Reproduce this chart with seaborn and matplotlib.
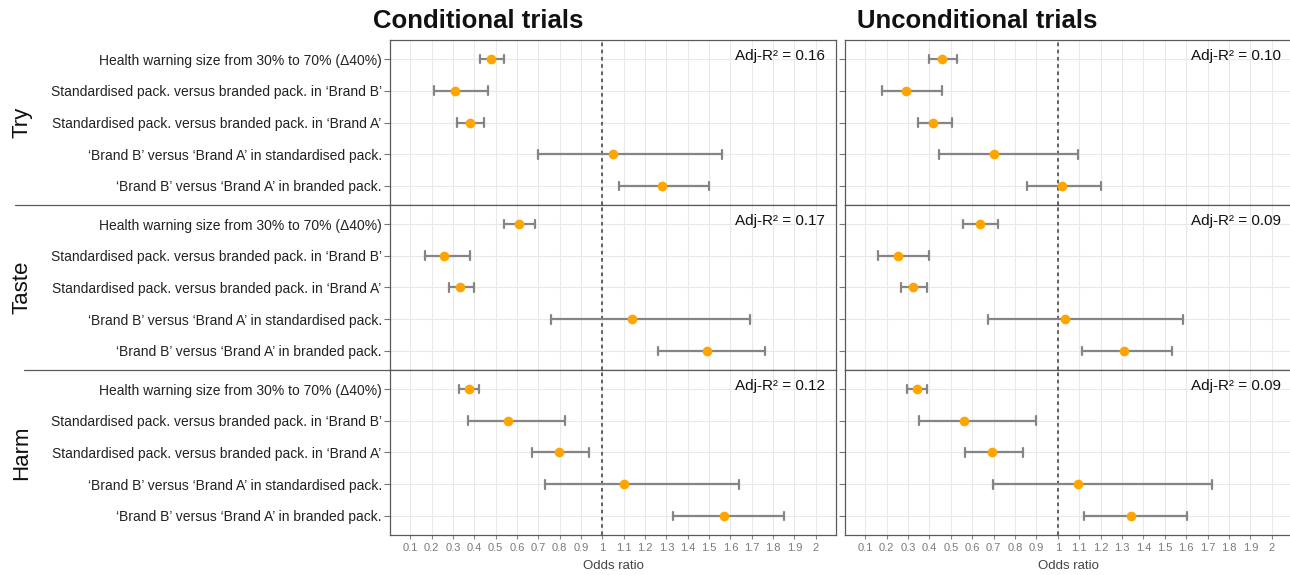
import numpy as np
import pandas as pd
import matplotlib
matplotlib.use("Agg")
import matplotlib.pyplot as plt
import seaborn as sns
from matplotlib.lines import Line2D

sns.set_theme(style="white")
plt.rcParams['font.family'] = ['Liberation Sans', 'DejaVu Sans']

# ---------------- data ----------------
comparisons = [
    "Health warning size from 30% to 70% (\u039440%)",
    "Standardised pack. versus branded pack. in \u2018Brand B\u2019",
    "Standardised pack. versus branded pack. in \u2018Brand A\u2019",
    "\u2018Brand B\u2019 versus \u2018Brand A\u2019 in standardised pack.",
    "\u2018Brand B\u2019 versus \u2018Brand A\u2019 in branded pack.",
]
outcomes = ["Try", "Taste", "Harm"]
trial_titles = ["Conditional trials", "Unconditional trials"]
x_ticks = [0.1, 0.2, 0.3, 0.4, 0.5, 0.6, 0.7, 0.8, 0.9, 1.0,
           1.1, 1.2, 1.3, 1.4, 1.5, 1.6, 1.7, 1.8, 1.9, 2.0]
x_tick_labels = ["0.1", "0.2", "0.3", "0.4", "0.5", "0.6", "0.7", "0.8", "0.9", "1",
                 "1.1", "1.2", "1.3", "1.4", "1.5", "1.6", "1.7", "1.8", "1.9", "2"]

# Conditional trials
cond_try_or = [0.48, 0.31, 0.38, 1.05, 1.28]
cond_try_lo = [0.425, 0.21, 0.32, 0.70, 1.08]
cond_try_hi = [0.54, 0.465, 0.447, 1.56, 1.50]
cond_taste_or = [0.61, 0.26, 0.335, 1.14, 1.49]
cond_taste_lo = [0.54, 0.17, 0.28, 0.76, 1.26]
cond_taste_hi = [0.685, 0.38, 0.40, 1.69, 1.76]
cond_harm_or = [0.375, 0.557, 0.795, 1.10, 1.57]
cond_harm_lo = [0.327, 0.372, 0.672, 0.732, 1.332]
cond_harm_hi = [0.42, 0.826, 0.937, 1.64, 1.853]

# Unconditional trials
unc_try_or = [0.46, 0.29, 0.415, 0.70, 1.02]
unc_try_lo = [0.40, 0.18, 0.345, 0.445, 0.855]
unc_try_hi = [0.53, 0.46, 0.505, 1.095, 1.20]
unc_taste_or = [0.635, 0.255, 0.325, 1.035, 1.31]
unc_taste_lo = [0.555, 0.16, 0.267, 0.672, 1.115]
unc_taste_hi = [0.72, 0.40, 0.39, 1.585, 1.535]
unc_harm_or = [0.342, 0.56, 0.69, 1.096, 1.343]
unc_harm_lo = [0.293, 0.353, 0.568, 0.697, 1.124]
unc_harm_hi = [0.387, 0.898, 0.836, 1.722, 1.605]

cond_adj_r2 = [0.16, 0.17, 0.12]
unc_adj_r2 = [0.10, 0.09, 0.09]

panels = [
    [(cond_try_or, cond_try_lo, cond_try_hi),
     (cond_taste_or, cond_taste_lo, cond_taste_hi),
     (cond_harm_or, cond_harm_lo, cond_harm_hi)],
    [(unc_try_or, unc_try_lo, unc_try_hi),
     (unc_taste_or, unc_taste_lo, unc_taste_hi),
     (unc_harm_or, unc_harm_lo, unc_harm_hi)],
]
adj_r2 = [cond_adj_r2, unc_adj_r2]


def long_df(orv, lo, hi):
    rows = []
    for lab, a, b, c in zip(comparisons, lo, orv, hi):
        for v in (a, b, c):
            rows.append({"comparison": lab, "odds_ratio": v})
    return pd.DataFrame(rows)


# ---------------- layout ----------------
W, H = 1290, 575
fig = plt.figure(figsize=(W / 100, H / 100), dpi=100)

col_x = [(390, 836), (845, 1292)]
row_y = [(40, 205), (205, 370), (370, 535)]

SPINE = "#5a5a5a"
ORANGE = "#FFA500"
GREY = "#858585"

for c in range(2):
    for r in range(3):
        x0, x1 = col_x[c]
        y0, y1 = row_y[r]
        ax = fig.add_axes([x0 / W, 1 - y1 / H, (x1 - x0) / W, (y1 - y0) / H])
        orv, lo, hi = panels[c][r]
        df = long_df(orv, lo, hi)
        sns.pointplot(data=df, x="odds_ratio", y="comparison", order=comparisons,
                      estimator="median", errorbar=("pi", 100), color=ORANGE,
                      linestyle="none", markers="o", markersize=7,
                      markeredgewidth=0, capsize=0.28,
                      err_kws={"color": GREY, "linewidth": 1.6, "linestyle": "-"},
                      ax=ax)
        # points above error bars
        ax.lines[0].set_zorder(5)
        for ln in ax.lines[1:]:
            ln.set_zorder(4)

        ax.axvline(1.0, color="#555555", linestyle=(0, (2, 2)), linewidth=1.3, zorder=3)

        ax.set_xlim(0.005, 2.095)
        ax.set_ylim(4.6, -0.6)
        ax.set_xticks(x_ticks)
        ax.set_axisbelow(True)
        ax.grid(True, which="major", color="#e9e9e9", linewidth=0.8)
        ax.set_ylabel("")

        for sp in ax.spines.values():
            sp.set_visible(True)
            sp.set_color(SPINE)
            sp.set_linewidth(0.9)

        if r == 2:
            ax.set_xticklabels(x_tick_labels)
            ax.tick_params(axis="x", which="major", bottom=True, length=3, width=0.8,
                           color="#888888", labelsize=8, labelcolor="#7a7a7a", pad=3)
            ax.set_xlabel("Odds ratio", fontsize=9.5, color="#444444", labelpad=5)
        else:
            ax.tick_params(axis="x", which="major", bottom=False, labelbottom=False)
            ax.set_xlabel("")

        if c == 0:
            ax.tick_params(axis="y", left=True, length=4, width=0.8, color="#777777",
                           labelsize=10, labelcolor="#222222", pad=2)
        else:
            ax.set_yticklabels([])
            ax.tick_params(axis="y", left=True, length=4, width=0.8, color="#777777")

        ax.text(2.045, -0.6 + 0.5, f"Adj-R\u00b2 = {adj_r2[c][r]:.2f}", ha="right",
                va="center", fontsize=11, color="#111111", zorder=6)

# separators extending under the row labels
for ysep, xstart in [(205, 15), (370, 24)]:
    fig.add_artist(Line2D([xstart / W, 390 / W], [1 - ysep / H, 1 - ysep / H],
                          color=SPINE, linewidth=0.9))

# facet labels
for r, name in enumerate(outcomes):
    yc = (row_y[r][0] + row_y[r][1]) / 2
    fig.text(22 / W, 1 - yc / H, name, rotation=90, ha="center", va="center",
             fontsize=16, color="#111111")

# titles
fig.text(373 / W, 1 - 21 / H, trial_titles[0], ha="left", va="center",
         fontsize=18.5, fontweight="bold", color="#111111")
fig.text(857 / W, 1 - 21 / H, trial_titles[1], ha="left", va="center",
         fontsize=18.5, fontweight="bold", color="#111111")

fig.savefig("out.png", dpi=100, facecolor="white")
